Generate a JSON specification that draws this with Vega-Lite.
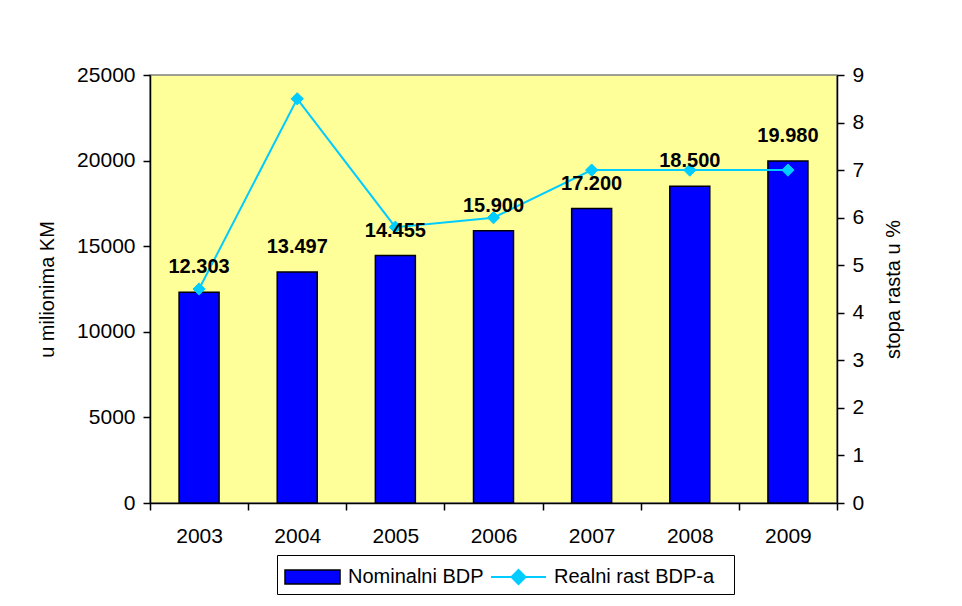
{
  "$schema": "https://vega.github.io/schema/vega-lite/v6.json",
  "width": 687,
  "height": 428,
  "autosize": {"type": "none"},
  "padding": {"left": 150, "top": 75, "right": 125, "bottom": 103},
  "background": "white",
  "config": {
    "font": "Liberation Sans",
    "view": {"fill": "#FFFF99", "stroke": "#808080", "strokeWidth": 1.5},
    "locale": {"number": {"decimal": ",", "thousands": ".", "grouping": [3], "currency": ["", ""]}},
    "axis": {
      "labelFont": "Liberation Sans",
      "titleFont": "Liberation Sans",
      "labelFontSize": 21,
      "titleFontSize": 20,
      "labelColor": "black",
      "titleColor": "black",
      "titleFontWeight": "normal",
      "domainColor": "black",
      "tickColor": "black",
      "grid": false,
      "domainWidth": 1.5,
      "tickWidth": 1.5,
      "tickSize": 7
    },
    "legend": {
      "labelFont": "Liberation Sans",
      "labelFontSize": 20,
      "labelColor": "black",
      "labelLimit": 600,
      "symbolSize": 784,
      "labelOffset": 34,
      "padding": 7,
      "symbolOpacity": 1
    }
  },
  "data": {
    "values": [
      {"year": "2003", "bdp": 12303, "rast": 4.5},
      {"year": "2004", "bdp": 13497, "rast": 8.5},
      {"year": "2005", "bdp": 14455, "rast": 5.8},
      {"year": "2006", "bdp": 15900, "rast": 6.0},
      {"year": "2007", "bdp": 17200, "rast": 7.0},
      {"year": "2008", "bdp": 18500, "rast": 7.0},
      {"year": "2009", "bdp": 19980, "rast": 7.0}
    ]
  },
  "encoding": {
    "x": {
      "field": "year",
      "type": "ordinal",
      "scale": {"paddingInner": 0, "paddingOuter": 0},
      "axis": {"title": null, "labelAngle": 0, "tickBand": "extent", "labelPadding": 15}
    }
  },
  "layer": [
    {
      "mark": {"type": "bar", "size": 40, "stroke": "black", "strokeWidth": 1.5},
      "encoding": {
        "y": {
          "field": "bdp",
          "type": "quantitative",
          "scale": {"domain": [0, 25000]},
          "axis": {"title": "u milionima KM", "values": [0, 5000, 10000, 15000, 20000, 25000], "format": "d", "titlePadding": 19, "labelPadding": 8}
        },
        "color": {
          "datum": "Nominalni BDP",
          "type": "nominal",
          "scale": {"domain": ["Nominalni BDP"], "range": ["#0000FF"]},
          "legend": {
            "orient": "none",
            "legendX": 127,
            "legendY": 480,
            "direction": "horizontal",
            "title": null,
            "strokeColor": "black",
            "symbolType": "M-1,-0.5H2.93V0.5H-1ZM30.3,0",
            "symbolStrokeColor": "black",
            "symbolStrokeWidth": 1.5
          }
        }
      }
    },
    {
      "encoding": {
        "y": {
          "field": "rast",
          "type": "quantitative",
          "scale": {"domain": [0, 9]},
          "axis": {"orient": "right", "title": "stopa rasta u %", "titleAngle": 270, "titleBaseline": "top", "values": [0, 1, 2, 3, 4, 5, 6, 7, 8, 9], "titlePadding": 20, "labelPadding": 8}
        }
      },
      "layer": [
        {
          "mark": {"type": "line", "color": "#00CCFF", "strokeWidth": 2}
        },
        {
          "mark": {"type": "point", "shape": "diamond", "filled": true, "size": 150, "opacity": 1, "stroke": "#00CCFF", "strokeWidth": 1},
          "encoding": {
            "fill": {
              "datum": "Realni rast BDP-a",
              "type": "nominal",
              "scale": {"domain": ["Realni rast BDP-a"], "range": ["#00CCFF"]},
              "legend": {
                "orient": "none",
                "legendX": 333,
                "legendY": 480,
                "direction": "horizontal",
                "title": null,
                "symbolType": "M-1,0H0.465M1.465,0H2.93M0.965,-0.5L1.465,0L0.965,0.5L0.465,0Z",
                "symbolStrokeColor": "#00CCFF",
                "symbolStrokeWidth": 2
              }
            }
          }
        }
      ]
    },
    {
      "mark": {"type": "text", "fontWeight": "bold", "fontSize": 20, "baseline": "alphabetic", "dy": -19, "color": "black", "font": "Liberation Sans"},
      "encoding": {
        "y": {"field": "bdp", "type": "quantitative", "scale": {"domain": [0, 25000]}, "axis": null},
        "text": {"field": "bdp", "type": "quantitative", "format": ",d"}
      }
    }
  ],
  "resolve": {"scale": {"y": "independent"}}
}
